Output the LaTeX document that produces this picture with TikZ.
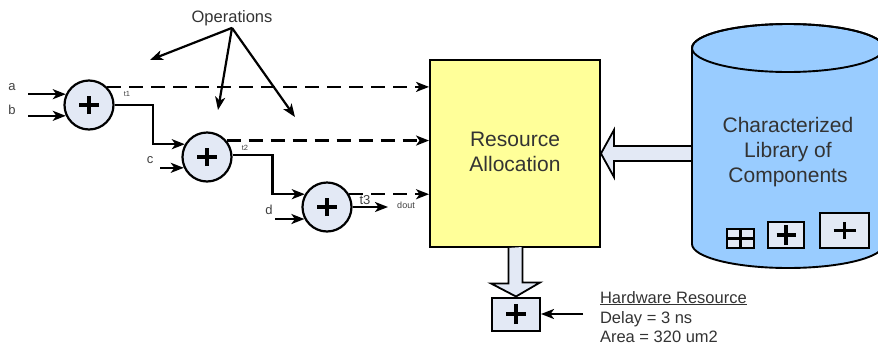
\documentclass[tikz,border=0pt]{standalone}
\usepackage{fontspec}
\setmainfont{Liberation Sans}
\usetikzlibrary{arrows.meta}
\definecolor{opfill}{HTML}{E3E9F5}
\definecolor{allocfill}{HTML}{FFFF99}
\definecolor{libfill}{HTML}{99CCFF}
\definecolor{inkgray}{HTML}{333333}
\definecolor{lblgray}{HTML}{404040}
\tikzset{
  wire/.style={line width=2.2pt, black},
  arr/.style={wire, -{Stealth[length=13pt,width=10pt,inset=3.5pt]}},
  dasharr/.style={arr, dash pattern=on 14pt off 8pt},
  pluscross/.style n args={3}{path picture={
     \draw[line width=#3] ([xshift=-#1]path picture bounding box.center) -- ([xshift=#1]path picture bounding box.center);
     \draw[line width=#3] ([yshift=-#2]path picture bounding box.center) -- ([yshift=#2]path picture bounding box.center);}},
  adder/.style={circle, draw, line width=2.2pt, fill=opfill, minimum size=49pt, inner sep=0pt,
     pluscross={10pt}{9pt}{3.2pt}},
  comp/.style={draw, line width=2pt, fill=opfill, inner sep=0pt},
  blockarrow/.style={draw, line width=1.8pt, fill=opfill, line join=miter},
  bigtext/.style={text=inkgray, font=\fontsize{21pt}{25pt}\selectfont, align=center},
  midtext/.style={text=inkgray, font=\fontsize{16.5pt}{19.5pt}\selectfont},
  sig/.style={text=lblgray, font=\fontsize{13pt}{15pt}\selectfont, inner sep=0pt},
  tinysig/.style={text=lblgray, font=\fontsize{7.5pt}{9pt}\selectfont, inner sep=0pt},
}
\begin{document}
\begin{tikzpicture}[x=1pt,y=-1pt]
\useasboundingbox (0,0) rectangle (878,346);

% allocation block
\node[draw, line width=1.9pt, fill=allocfill, minimum width=170pt, minimum height=187pt,
      inner sep=0pt] (RA) at (515,153.5) {};
\node[bigtext] (RAtext) at (515,152) {Resource\\Allocation};

% library feeding the allocator
\draw[blockarrow] (RA.east) -- ++(13,-23.5) -- ++(0,16) -- ++(87,0) -- ++(0,15)
      -- ++(-87,0) -- ++(0,16) -- cycle;

% component library cylinder
\begin{scope}
  \clip (0,0) rectangle (878,346);
  \path[fill=libfill, draw, line width=1.9pt]
    (692,48) -- (692,244)
    arc[start angle=180, end angle=360, x radius=96pt, y radius=24pt]
    -- (884,48)
    arc[start angle=0, end angle=180, x radius=96pt, y radius=24pt] -- cycle;
  \draw[line width=1.9pt] (788,48) ellipse[x radius=96pt, y radius=24pt];
\end{scope}
\node[bigtext] (Lib) at (788,152) {Characterized\\Library of\\Components};
\node[comp, minimum width=27pt, minimum height=19pt, pluscross={14pt}{10pt}{2.6pt}] (c1) at (740.5,238.5) {};
\node[comp, minimum width=36pt, minimum height=26pt, pluscross={9.5pt}{10pt}{3.2pt}] (c2) at (786,235) {};
\node[comp, minimum width=49pt, minimum height=35pt, pluscross={11pt}{8.5pt}{3.2pt}] (c3) at (844.5,230.5) {};

% chosen hardware resource
\node[comp, minimum width=48pt, minimum height=33pt, pluscross={10pt}{10pt}{3.2pt}] (HW) at (516,314) {};
\draw[blockarrow] ([xshift=-6.5pt]RA.south) -- ++(0,35.5) -- ++(-17.5,0) -- (HW.north)
      -- ++(24,-14) -- ++(-17.5,0) -- ++(0,-35.5);
\coordinate (hwsrc) at (583,314);
\draw[arr] (hwsrc) -- (HW.east);
\node[midtext, anchor=base west] (hwtitle) at (596.5,303) {\underline{Hardware Resource}};
\node[midtext, anchor=base west] (hwdelay) at (596.5,323) {Delay = 3 ns};
\node[midtext, anchor=base west] (hwarea) at (596.5,342) {Area = 320 um2};

% adder chain
\node[adder] (A1) at (89,105) {};
\node[adder] (A2) at (207,157) {};
\node[adder] (A3) at (327,207) {};

\node[sig] (la) at (12,87) {a};
\node[sig] (lb) at (12,110) {b};
\node[sig] (lc) at (150,160) {c};
\node[sig] (ld) at (269,210) {d};
\coordinate (ain) at (28,0);
\coordinate (cin) at (160,0);
\coordinate (din) at (275,0);
\draw[arr] (ain |- A1.155) -- (A1.155);
\draw[arr] (ain |- A1.205) -- (A1.205);
\draw[arr] (cin |- A2.205) -- (A2.205);
\draw[arr] (din |- A3.208) -- (A3.208);

\draw[arr] (A1.east) -- ++(38,0) |- (A2.150);
\draw[arr] (A2.5) -- ++(40,0) |- (A3.150);
\coordinate (doutend) at (388,207);
\draw[arr] (A3.east) -- (doutend);

\node[tinysig] (t1) at (127,94) {t1};
\node[tinysig] (t2) at (245,148) {t2};
\node[sig] (t3) at (365,200) {t3};
\node[tinysig, font=\fontsize{9pt}{10pt}\selectfont] (dout) at (406,205) {dout};

% intermediate values sent to the allocator
\draw[dasharr] (A1.45) -- (A1.45 -| RA.west);
\draw[dasharr] (A2.40) -- (A2.40 -| RA.west);
\draw[dasharr] (A3.30) -- (A3.30 -| RA.west);

% operations callout
\node[midtext, inner sep=2pt] (Ops) at (232,18) {Operations};
\coordinate (op1) at (150,60);
\coordinate (op2) at (218,110);
\coordinate (op3) at (295,117);
\draw[arr] (Ops.south) -- (op1);
\draw[arr] (Ops.south) -- (op2);
\draw[arr] (Ops.south) -- (op3);
\end{tikzpicture}
\end{document}
